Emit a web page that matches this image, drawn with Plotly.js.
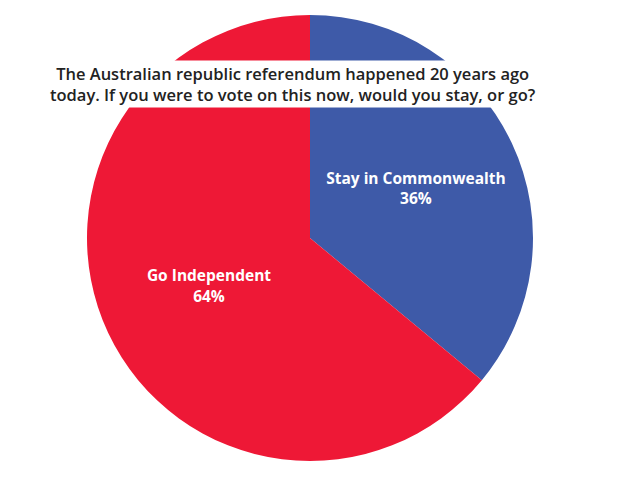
<!DOCTYPE html>
<html>
<head>
<meta charset="utf-8">
<script src="https://cdn.plot.ly/plotly-3.0.1.min.js"></script>
<style>
  html, body { margin: 0; padding: 0; background: #fff; }
  #chart { width: 624px; height: 480px; }
</style>
</head>
<body>
<div id="chart"></div>
<script>
var labels = ['Stay in Commonwealth', 'Go Independent'];
var values = [36, 64];
var colors = ['#3E5AA8', '#EE1836'];
var titleText = 'The Australian republic referendum happened 20 years ago<br>today. If you were to vote on this now, would you stay, or go?';

var trace = {
  type: 'pie',
  labels: labels,
  values: values,
  sort: false,
  direction: 'clockwise',
  rotation: 0,
  marker: {colors: colors, line: {width: 0}},
  textinfo: 'label+percent',
  textposition: 'inside',
  insidetextorientation: 'horizontal',
  textfont: {family: 'Open Sans, sans-serif', size: 15.5, color: '#fff', weight: 700},
  hoverinfo: 'label+percent',
  showlegend: false
};

var layout = {
  width: 624,
  height: 480,
  margin: {l: 0, r: 4, t: 15, b: 19},
  paper_bgcolor: '#fff',
  showlegend: false,
  annotations: [{
    text: titleText,
    xref: 'paper', yref: 'paper',
    x: 0.4726, y: 0.845,
    xanchor: 'center', yanchor: 'middle',
    showarrow: false,
    bgcolor: '#fff',
    borderpad: 1,
    font: {family: 'Open Sans, sans-serif', size: 16.5, color: '#222', weight: 600}
  }]
};

Plotly.newPlot('chart', [trace], layout, {displayModeBar: false});
</script>
</body>
</html>
